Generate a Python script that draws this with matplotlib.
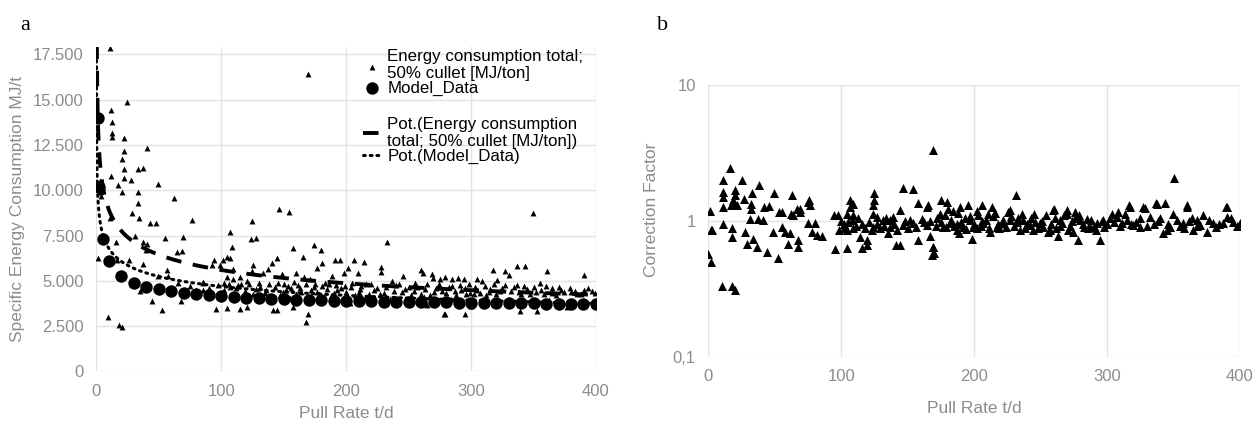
import numpy as np
import matplotlib
matplotlib.use("Agg")
import matplotlib.pyplot as plt
from matplotlib.ticker import FixedLocator, FuncFormatter

plt.rcParams['font.family'] = ['Liberation Sans', 'DejaVu Sans']

# ---- panel a: energy consumption (triangles) ----
energy_x = [10.8, 24.7, 11.3, 12.7, 12.1, 12.1, 22.3, 40.2, 22.3, 20.2, 33.5, 37.5, 22.3, 11.6,
            22.3, 27.6, 17.5, 49.5, 20.2, 33.0, 62.3, 33.0, 28.7, 34.0, 10.5, 42.8, 47.6, 76.2,
            30.8, 54.9, 69.0, 15.6, 37.5, 40.2, 39.6, 64.2, 68.7, 1.5, 16.1, 26.3, 37.0, 94.0,
            92.8, 98.9, 56.2, 49.0, 57.0, 65.0, 34.8, 44.7, 52.2, 67.7, 95.4, 9.5, 18.0, 20.2,
            3.0, 4.0, 2.5, 85, 90, 97, 80, 75, 88, 85.5, 85.5,
            169.6, 146.4, 154.4, 124.8, 106.9, 123.7, 127.5, 108.8, 157.6, 174.5, 179.8, 165.1,
            144.2, 140.3, 106.9, 104.2, 101.6, 180.3, 191.0, 195.0, 176.3, 125.5, 109.6, 124.8,
            133.6, 137.6, 148.5, 160.0, 166.0, 171.3, 189.0, 198.4, 104.2, 109.6, 114.9, 120.3,
            102, 102, 106, 116, 130, 138, 150, 158, 175, 183, 192, 112, 128, 143, 152, 163, 172,
            185, 196, 104.2, 114.9, 120.3, 141.6, 144.2, 157.6, 169.6, 167.7, 110, 125, 135, 147,
            160, 178, 190, 200, 118, 155, 182, 198,
            101, 107, 113, 119, 122, 131, 136, 139, 145, 149, 153, 156, 161, 164, 168, 174, 177,
            181, 186, 188, 193, 199,
            232.4, 206.2, 214.2, 201.1, 209.1, 227.9, 227.9, 245.2, 259.8, 261.6, 269.7, 275,
            279, 284.4, 289.7, 294.3, 268.3, 279, 264.4, 236.3, 205, 212, 220, 225, 240, 250,
            255, 265, 272, 285, 292, 298, 210, 218, 230, 245, 252, 260, 270, 280, 288, 296, 215,
            235, 262, 284, 203, 248, 278.3, 295.1,
            204, 207, 211, 216, 222, 227, 232, 238, 242, 247, 254, 257, 263, 267, 274, 277, 282,
            287, 291, 295, 299,
            349.8, 337.0, 343.1, 317.3, 327.1, 330.6, 360.4, 390.4, 304.4, 308.9, 321.0, 337.0,
            355.1, 364.5, 390.4, 305, 315, 325, 332, 345, 352, 372, 380, 397, 302, 312, 320, 340,
            358, 368, 385, 310, 330, 348, 362, 378, 392, 376.6, 339.1, 352.5, 300,
            303, 307, 311, 314, 318, 323, 327, 334, 338, 342, 347, 350, 356, 360, 365, 370, 374,
            379, 383, 388, 394, 399]
energy_y = [17830, 14885, 14427, 13782, 13141, 12954, 12900, 12313, 12165, 11723, 11155, 11210,
            11155, 10786, 10692, 10565, 10289, 10344, 9921, 9921, 9553, 9278, 8726, 8450, 8450,
            8211, 8211, 8340, 7475, 7347, 7420, 7163, 7163, 7034, 6703, 6574, 6666, 6243, 6151,
            6170, 5931, 6151, 5900, 5850, 5600, 5287, 5250, 4864, 4460, 3908, 3393, 3890, 3430,
            2988, 2565, 2437,
            9900, 9700, 10500, 4900, 4600, 4750, 4500, 4700, 4400, 4950, 4500,
            16413, 8965, 8800, 8322, 7677, 7292, 7384, 6850, 6830, 6979, 6703, 6335, 6280, 6004,
            6260, 6330, 6150, 6004, 6150, 6150, 5692, 5858, 5638, 5550, 5460, 5640, 5370, 5460,
            5190, 5100, 5280, 5460, 5190, 5100, 5190, 5000,
            4900, 4500, 4800, 4850, 4900, 4800, 4850, 4950, 4800, 4900, 4750, 4600, 4550, 4650,
            4500, 4600, 4500, 4550, 4600, 3485, 3430, 3560, 3375, 3375, 3560, 3153, 2750, 4300,
            4250, 4350, 4200, 4300, 4250, 4350, 4400, 4100, 4050, 4100, 4000,
            4400, 4650, 4750, 4450, 4800, 4650, 4500, 4150, 4900, 4400, 4700, 4600, 4750, 4400,
            4850, 4650, 4400, 4700, 4800, 4150, 4500, 4700,
            7163, 6151, 6060, 5690, 5420, 5780, 5500, 5260, 5600, 5440, 5150, 5100, 5200, 5100,
            5150, 5100, 5360, 3172, 3660, 4970, 4900, 4700, 4800, 4600, 4750, 4650, 4900, 4800,
            4600, 4700, 4500, 4800, 4400, 4300, 4350, 4400, 4200, 4300, 4400, 4350, 4200, 4300,
            4050, 4000, 4100, 4000, 3800, 3900, 3155, 3170,
            4650, 4200, 4550, 4850, 4500, 4250, 4650, 4450, 4850, 4550, 4450, 4650, 4550, 4200,
            4800, 4450, 4650, 4450, 4750, 4600, 4350,
            8761, 5820, 5820, 5600, 5540, 5350, 5540, 5306, 5120, 4970, 5030, 4750, 4880, 4590,
            4500, 4500, 4550, 4600, 4450, 4550, 4400, 4500, 4400, 4450, 4250, 4200, 4300, 4250,
            4300, 4200, 4250, 3900, 3950, 3850, 3950, 3800, 3850, 3577, 3350, 3350, 3600,
            4650, 4350, 4700, 4400, 4800, 4450, 4750, 4650, 4400, 4700, 4300, 4650, 4500, 4700,
            4350, 4650, 4400, 4600, 4450, 4300, 4600, 4350]

# ---- panel a: model data (circles) ----
model_x = [1, 2, 5, 10, 20, 30, 40, 50, 60, 70, 80, 90, 100, 110, 120, 130, 140, 150, 160, 170,
           180, 190, 200, 210, 220, 230, 240, 250, 260, 270, 280, 290, 300, 310, 320, 330, 340,
           350, 360, 370, 380, 390, 400]
model_y = [14000, 10160, 7330, 6100, 5270, 4900, 4680, 4570, 4460, 4350, 4280, 4240, 4170, 4120,
           4080, 4050, 4020, 3990, 3970, 3950, 3930, 3910, 3900, 3880, 3870, 3860, 3850, 3840,
           3830, 3820, 3810, 3800, 3790, 3780, 3775, 3770, 3760, 3755, 3750, 3740, 3735, 3730,
           3720]

# power trendlines: y = a * x**b
trend_energy = (14190, -0.202)
trend_model = (9800, -0.16)

# ---- panel b: correction factor ----
corr_x = [1.3, 16.3, 10.8, 25.1, 11.3, 11.3, 19.8, 19.8, 18.5, 26.8, 33.0, 38.0, 32.5, 32.5,
          49.7, 62.7, 76.0, 17.0, 18.5, 42.3, 45.8, 53.0, 67.1, 62.1, 106.6, 124.7, 124.7,
          146.3, 154.3, 158.0, 164.4, 169.3, 350.4, 231.5, 174.9, 179.8, 180.6, 189.4, 195.6,
          205.6, 213.2, 210.7, 227.0, 245.0, 259.8, 269.6, 276.0, 316.8, 327.3, 336.9, 343.6,
          360.0, 389.5, 308.0, 313.6, 0.0, 1.8, 10.0, 17.6, 20.0, 11.3, 17.6, 21.3, 1.8, 3.0,
          11.3, 17.8, 17.8, 27.8, 28.8, 33.8, 36.3, 31.3, 37.6, 41.4, 43.9, 48.9, 55.2, 57.7,
          61.4, 52.5, 60.3, 67.8, 67.8, 55.2, 64.0, 69.0, 69.0, 75.3, 80.3, 77.8, 81.5, 85.3,
          75.0, 76.5, 94.3, 97.8, 104.1, 109.1, 98.1, 101.8, 104.1, 109.1, 106.6, 109.1, 95.6,
          104.1, 115.4, 114.1, 119.1, 119.1, 124.1, 126.6, 124.1, 131.6, 136.6, 124.1, 135.4,
          141.6, 144.1, 139.1, 144.1, 146.6, 154.3, 158.0, 160.6, 164.3, 165.6, 166.8, 169.3,
          168.1, 168.8, 170.0,
          176.8, 181.8, 186.9, 191.9, 196.9, 198.2, 201.9, 207.0, 212.0, 217.0, 220.7, 227.0,
          225.7, 234.5, 237.0, 242.0, 244.5, 249.6, 255.8, 259.6, 263.4, 264.6, 269.6, 274.6,
          278.4, 279.7, 284.7, 287.2, 292.2, 294.7, 297.2, 303.5, 307.2, 311.0, 317.3, 319.8,
          324.8, 328.6, 332.3, 337.4, 342.4, 344.9, 347.4, 352.4, 357.4, 359.9, 365.0, 367.4,
          375.0, 380.0, 387.5, 390.0, 390.0, 400.0,
          100, 102, 105, 108, 111, 113, 116, 118, 121, 123, 127, 129, 132, 134, 137, 140, 142,
          148, 150, 152, 156, 162, 167,
          172, 175, 178, 183, 185, 188, 190, 194, 197, 200, 203, 205, 209, 214, 219, 222, 230,
          233, 238, 246, 252, 258, 262, 266, 272, 276, 282, 286, 290, 300, 305, 315, 322, 335,
          340, 355, 362, 370, 372, 382, 395,
          171, 174, 179, 184, 187, 189, 193, 199, 202, 206, 211, 216, 218, 224, 228, 232, 236,
          240, 243, 248, 251, 254, 257, 261, 265, 268, 271, 274, 279, 283, 288, 292, 296, 298,
          302, 310, 318, 325, 330, 338, 346, 350, 358, 364, 368, 377, 384, 393, 398]
corr_y = [1.18, 2.43, 1.99, 1.99, 1.63, 1.50, 1.68, 1.54, 1.42, 1.46, 1.59, 1.83, 1.34, 1.23,
          1.61, 1.56, 1.42, 1.30, 1.34, 1.26, 1.28, 1.16, 1.22, 1.12, 1.42, 1.60, 1.42, 1.75,
          1.73, 1.36, 1.27, 3.31, 2.05, 1.55, 1.42, 1.38, 1.23, 1.27, 1.30, 1.30, 1.27, 1.13,
          1.20, 1.13, 1.23, 1.20, 1.16, 1.30, 1.27, 1.36, 1.36, 1.30, 1.27, 1.16, 1.13, 0.575,
          0.50, 0.33, 0.33, 0.31, 1.27, 1.30, 1.30, 0.85, 0.85, 0.945, 0.88, 0.76, 0.83, 0.68,
          0.73, 0.64, 1.04, 1.04, 1.01, 0.59, 0.83, 0.90, 0.83, 0.81, 0.53, 0.67, 0.72, 0.64,
          1.16, 1.10, 1.16, 1.23, 0.96, 0.96, 0.83, 0.79, 0.77, 1.38, 1.30, 1.10, 1.10, 1.13,
          1.10, 0.85, 0.88, 0.85, 0.88, 1.27, 1.34, 0.62, 0.63, 0.63, 0.76, 0.72, 0.66, 0.90,
          1.07, 1.13, 1.01, 1.01, 1.30, 0.81, 0.66, 0.66, 1.07, 1.20, 0.93, 0.96, 0.72, 1.04,
          0.93, 1.30, 0.77, 0.64, 0.56, 0.64, 0.58,
          0.90, 0.96, 0.85, 0.90, 1.01, 0.74, 0.88, 0.96, 0.83, 0.90, 0.96, 1.01, 1.17, 0.85,
          1.01, 0.93, 0.85, 0.96, 0.83, 1.20, 0.78, 1.01, 1.13, 0.83, 0.72, 1.01, 1.04, 0.90,
          0.96, 0.72, 1.01, 1.13, 1.07, 0.96, 1.27, 0.93, 0.90, 1.24, 1.07, 1.34, 0.81, 0.85,
          0.90, 1.01, 0.96, 1.27, 0.85, 1.01, 0.83, 0.96, 0.96, 1.27, 1.07, 0.96,
          1.00, 0.95, 0.98, 1.02, 0.92, 1.05, 0.95, 0.88, 0.98, 0.85, 0.95, 0.88, 0.92, 1.05,
          0.90, 0.95, 0.85, 1.00, 0.88, 1.02, 0.90, 0.98, 1.00,
          1.05, 0.98, 1.10, 1.02, 0.92, 1.15, 0.98, 0.87, 1.08, 0.95, 1.10, 0.92, 1.02, 1.08,
          0.88, 1.02, 0.92, 1.05, 0.88, 0.98, 0.90, 0.95, 0.88, 0.97, 0.92, 1.05, 0.95, 0.88,
          0.92, 0.95, 0.98, 1.02, 0.98, 0.95, 1.05, 0.92, 1.00, 0.93, 1.10, 0.90, 0.98,
          0.92, 1.12, 0.90, 1.18, 0.95, 0.82, 1.05, 0.90, 1.18, 1.00, 0.88, 1.15, 0.95, 0.90,
          1.08, 0.98, 1.12, 0.95, 1.05, 0.88, 1.00, 1.10, 0.85, 1.05, 0.92, 1.10, 0.85, 1.00,
          1.10, 0.90, 1.02, 0.85, 1.00, 0.90, 1.05, 0.92, 0.95, 1.05, 0.92, 1.00, 0.95, 1.12,
          0.88, 1.05, 0.92, 1.02, 0.95, 1.05, 0.92]

grey = '#8c8c8c'
grid_c = '#e3e3e3'

fig = plt.figure(figsize=(12.56, 4.25), dpi=100)
ax1 = fig.add_axes([0.0768, 0.1259, 0.3977, 0.7635])
ax2 = fig.add_axes([0.5639, 0.1607, 0.4233, 0.6393])

#panel a
h_en = ax1.scatter(energy_x, energy_y, marker='^', s=18, color='black', lw=0, zorder=3)
h_mo = ax1.scatter(model_x, model_y, marker='o', s=80, color='black', lw=0, zorder=4)

xe = np.geomspace(0.3, 400, 500)
h_te, = ax1.plot(xe, trend_energy[0] * xe**trend_energy[1], color='black', lw=2.8,
                 dashes=(4, 3), zorder=5)
xm = np.geomspace(0.03, 400, 500)
h_tm, = ax1.plot(xm, trend_model[0] * xm**trend_model[1], color='black', lw=2.2,
                 dashes=(0.6, 1.6), dash_capstyle='round', zorder=5)

ax1.set_xlim(0, 400)
ax1.set_ylim(0, 17900)
ax1.xaxis.set_major_locator(FixedLocator([0, 100, 200, 300, 400]))
ax1.yaxis.set_major_locator(FixedLocator(np.arange(0, 17501, 2500)))
ax1.yaxis.set_major_formatter(FuncFormatter(lambda v, p: f"{int(v):,}".replace(",", ".")))
ax1.set_xlabel("Pull Rate t/d", color=grey, fontsize=12.5, labelpad=5)
ax1.set_ylabel("Specific Energy Consumption MJ/t", color=grey, fontsize=12.5, labelpad=6)

leg_kw = dict(frameon=False, fontsize=12.2, handlelength=1.0, handletextpad=0.4,
              labelspacing=-0.05, borderaxespad=0, loc='upper left')
legA = ax1.legend([h_en, h_mo], ["Energy consumption total;\n50% cullet [MJ/ton]", "Model_Data"],
                  bbox_to_anchor=(0.521, 1.015), **leg_kw)
ax1.add_artist(legA)
ax1.legend([h_te, h_tm], ["Pot.(Energy consumption\ntotal; 50% cullet [MJ/ton])", "Pot.(Model_Data)"],
           bbox_to_anchor=(0.521, 0.805), **leg_kw)

#panel b
ax2.scatter(corr_x, corr_y, marker='^', s=42, color='black', lw=0, zorder=3)
ax2.set_yscale('log')
ax2.set_xlim(0, 400)
ax2.set_ylim(0.1, 10)
ax2.xaxis.set_major_locator(FixedLocator([0, 100, 200, 300, 400]))
ax2.yaxis.set_major_locator(FixedLocator([0.1, 1, 10]))
ax2.yaxis.set_minor_locator(FixedLocator([]))
ax2.yaxis.set_major_formatter(FuncFormatter(lambda v, p: {0.1: "0,1", 1: "1", 10: "10"}.get(round(v, 1), "")))
ax2.set_xlabel("Pull Rate t/d", color=grey, fontsize=12.5, labelpad=12)
ax2.set_ylabel("Correction Factor", color=grey, fontsize=12.5)
ax2.yaxis.set_label_coords(-0.092, 0.54)

for ax in (ax1, ax2):
    for s in ax.spines.values():
        s.set_visible(False)
    ax.grid(True, color=grid_c, lw=1)
    ax.set_axisbelow(True)
    ax.tick_params(length=0, labelsize=12, labelcolor=grey, pad=9)

fig.text(0.016, 0.93, "a", family='Liberation Serif', fontsize=16)
fig.text(0.523, 0.93, "b", family='Liberation Serif', fontsize=16)

fig.savefig("out.png", dpi=100, facecolor='white')
